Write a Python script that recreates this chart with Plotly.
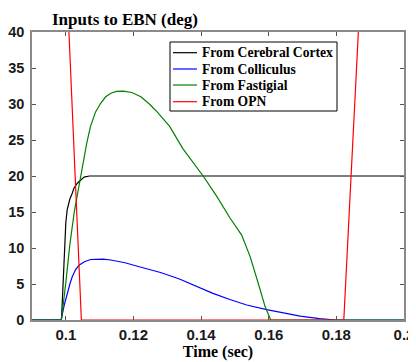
import plotly.graph_objects as go

# Time samples (sec) and values (deg)
t_cortex = [0.09, 0.0987, 0.0990, 0.0994, 0.0997, 0.1000, 0.1004, 0.1012, 0.1019, 0.1024, 0.1034,
            0.1044, 0.1054, 0.1070, 0.1100, 0.2]
v_cortex = [0, 0, 3, 7.5, 11, 13.5, 15.3, 16.8, 17.6, 18.3, 19.0, 19.5, 19.85, 20, 20, 20]

t_coll = [0.09, 0.0986, 0.0995, 0.1004, 0.1012, 0.1019, 0.1029, 0.1039, 0.1055, 0.1073, 0.1090,
          0.1110, 0.1133, 0.1175, 0.1217, 0.1280, 0.1336, 0.1385, 0.1435, 0.1485, 0.1535, 0.1594,
          0.1645, 0.1693, 0.1750, 0.1800, 0.2]
v_coll = [0, 0, 2.0, 3.7, 5.0, 6.0, 7.0, 7.6, 8.1, 8.4, 8.47, 8.45, 8.33, 7.95, 7.4, 6.6, 5.7, 4.7,
          3.7, 2.85, 2.08, 1.45, 0.95, 0.55, 0.2, 0, 0]

t_fast = [0.09, 0.0987, 0.1000, 0.1012, 0.1025, 0.1040, 0.1052, 0.1062, 0.1073, 0.1088, 0.1103,
          0.1118, 0.1133, 0.1150, 0.1170, 0.1195, 0.1222, 0.1247, 0.1270, 0.1292, 0.1307, 0.1346,
          0.1376, 0.1406, 0.1446, 0.1485, 0.1520, 0.1545, 0.1569, 0.1589, 0.1606, 0.2]
v_fast = [0, 0, 5.2, 10.5, 15.0, 19.0, 22.2, 24.6, 26.9, 28.9, 30.1, 31.0, 31.5, 31.75, 31.8, 31.6,
          31.0, 30.0, 28.9, 27.8, 26.9, 23.8, 21.9, 20.0, 17.2, 14.2, 11.8, 8.8, 5.1, 1.9, 0, 0]

t_opn = [0.09, 0.1000, 0.1046, 0.1822, 0.1900, 0.2]
v_opn = [200, 50, 0, 0, 72.5, 200]

x_ticks = [0.1, 0.12, 0.14, 0.16, 0.18, 0.2]
x_labels = ["0.1", "0.12", "0.14", "0.16", "0.18", "0.2"]
y_ticks = [0, 5, 10, 15, 20, 25, 30, 35, 40]

series = [
    ("From Cerebral Cortex", t_cortex, v_cortex, "#000000"),
    ("From Colliculus", t_coll, v_coll, "#0000ff"),
    ("From Fastigial", t_fast, v_fast, "#008000"),
    ("From OPN", t_opn, v_opn, "#ff0000"),
]

# the page body has an 8px margin, so the figure starts at (8, 8) in the window
OFF = 8
W, H = 416 - OFF, 362 - OFF
L, R, T, B = 32 - OFF, 12, 32 - OFF, 42
PW, PH = W - L - R, H - T - B


def px_x(p):
    return (p - OFF - L) / PW


def px_y(p):
    return (H - B - (p - OFF)) / PH


fig = go.Figure()
for name, t, v, c in series:
    fig.add_trace(go.Scatter(x=t, y=v, mode="lines", name=name,
                             line=dict(color=c, width=1.2)))


def axis_common(size):
    return dict(showgrid=False, zeroline=False, showline=True, linecolor="#8a8a8a",
                linewidth=1.5, mirror="ticks", ticks="inside", ticklen=4,
                tickcolor="#555555", automargin=False,
                tickfont=dict(family="Liberation Sans", size=size, color="#1a1a1a",
                              weight="bold"))


fig.update_layout(
    width=W, height=H,
    margin=dict(l=L, r=R, t=T, b=B, autoexpand=False),
    plot_bgcolor="white", paper_bgcolor="white",
    xaxis=dict(range=[0.09, 0.2], tickvals=x_ticks, ticktext=x_labels,
               title=dict(text="Time (sec)", standoff=2,
                          font=dict(family="Liberation Serif", size=16, color="black",
                                    weight="bold")),
               **axis_common(15)),
    yaxis=dict(range=[0, 40], tickvals=y_ticks, ticklabelstandoff=3, **axis_common(14.5)),
    showlegend=False,
)

# legend box drawn in the plot's paper coordinates
shapes = [dict(type="rect", xref="paper", yref="paper",
               x0=px_x(170), x1=px_x(337), y0=px_y(111), y1=px_y(42),
               line=dict(color="black", width=1), fillcolor="white", layer="above")]
annotations = [dict(text="Inputs to EBN (deg)", xref="paper", yref="paper",
                    x=px_x(50), y=px_y(19), xanchor="left", yanchor="middle",
                    showarrow=False,
                    font=dict(family="Liberation Serif", size=17, color="black",
                              weight="bold"))]
row_y = [52.7, 69, 85, 101.7]
for (name, _, _, c), ry in zip(series, row_y):
    shapes.append(dict(type="line", xref="paper", yref="paper",
                       x0=px_x(173), x1=px_x(197), y0=px_y(ry), y1=px_y(ry),
                       line=dict(color=c, width=1.2), layer="above"))
    annotations.append(dict(text=name, xref="paper", yref="paper", x=px_x(200), y=px_y(ry),
                            xanchor="left", yanchor="middle", showarrow=False,
                            font=dict(family="Liberation Serif", size=13.6, color="black",
                                      weight="bold")))
fig.update_layout(shapes=shapes, annotations=annotations)

fig.write_html("out.html")
